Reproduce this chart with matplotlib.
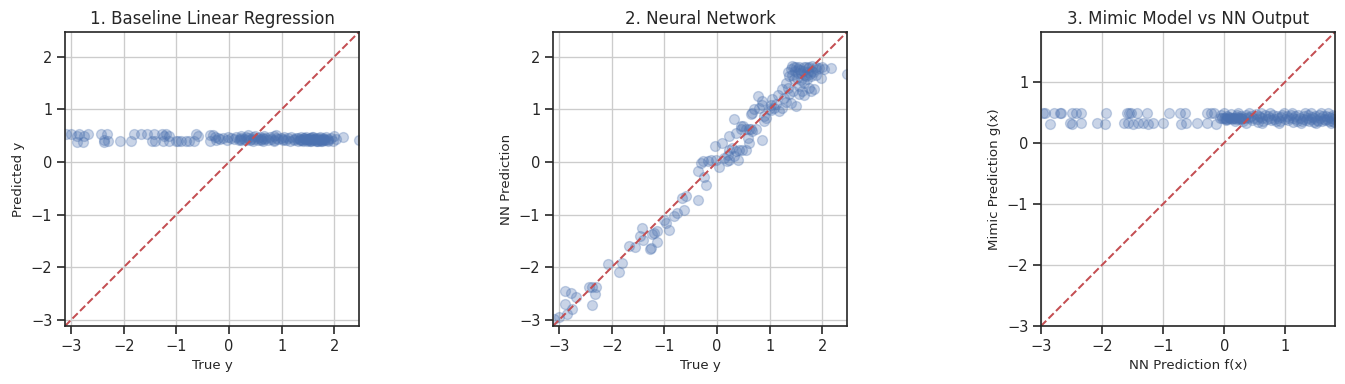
import numpy as np
import matplotlib
matplotlib.use("Agg")
import matplotlib.pyplot as plt
import seaborn as sns

sns.set_theme(style="ticks")
plt.rcParams['font.family'] = ['DejaVu Sans']

# 测试集真实值 / 线性回归预测 / 神经网络预测
true_y = [-3.11, -3.00, -2.90, -2.89, -2.85, -2.77, -2.75, -2.68, -2.43, -2.38,
          -2.37, -2.33, -2.30, -2.07, -1.87, -1.81, -1.67, -1.57, -1.47, -1.43,
          -1.40, -1.27, -1.26, -1.24, -1.20, -1.14, -1.14, -1.00, -0.97, -0.91,
          -0.82, -0.76, -0.62, -0.60, -0.66, -0.37, -0.36, -0.31, -0.27, -0.25,
          -0.22, -0.18, -0.12, -0.04, -0.03, 0.04, 0.09, 0.13, 0.18, 0.20,
          0.23, 0.23, 0.23, 0.29, 0.32, 0.32, 0.36, 0.36, 0.39, 0.42,
          0.45, 0.45, 0.48, 0.49, 0.55, 0.55, 0.58, 0.61, 0.61, 0.64,
          0.64, 0.67, 0.67, 0.70, 0.74, 0.77, 0.80, 0.85, 0.86, 0.86,
          0.89, 0.89, 0.93, 0.99, 1.02, 1.02, 1.05, 1.08, 1.12, 1.15,
          1.18, 1.24, 1.24, 1.31, 1.31, 1.34, 1.37, 1.40, 1.40, 1.43,
          1.46, 1.46, 1.50, 1.50, 1.53, 1.53, 1.56, 1.56, 1.59, 1.62,
          1.66, 1.66, 1.69, 1.69, 1.72, 1.75, 1.75, 1.78, 1.78, 1.81,
          1.85, 1.88, 1.88, 1.88, 1.94, 1.97, 2.00, 2.04, 2.16, 2.47,
          1.35, 1.42, 1.48, 1.52, 1.58, 1.60, 1.63, 1.67, 1.70, 1.73,
          1.76, 1.80, 1.83, 1.45, 1.55, 1.65, 1.28, 1.36]

lin_pred = [0.53, 0.53, 0.50, 0.37, 0.53, 0.37, 0.50, 0.53, 0.53, 0.37,
            0.41, 0.53, 0.39, 0.39, 0.39, 0.53, 0.53, 0.53, 0.39, 0.53,
            0.39, 0.53, 0.39, 0.49, 0.53, 0.39, 0.49, 0.39, 0.39, 0.39,
            0.39, 0.39, 0.53, 0.49, 0.39, 0.52, 0.39, 0.52, 0.47, 0.42,
            0.45, 0.44, 0.46, 0.42, 0.48, 0.45, 0.43, 0.47, 0.41, 0.44,
            0.50, 0.42, 0.46, 0.43, 0.48, 0.41, 0.45, 0.51, 0.42, 0.44,
            0.47, 0.40, 0.43, 0.50, 0.45, 0.41, 0.48, 0.44, 0.42, 0.46,
            0.39, 0.43, 0.50, 0.45, 0.41, 0.47, 0.44, 0.42, 0.49, 0.40,
            0.45, 0.51, 0.43, 0.46, 0.41, 0.44, 0.48, 0.42, 0.45, 0.40,
            0.47, 0.43, 0.41, 0.46, 0.39, 0.44, 0.48, 0.42, 0.40, 0.45,
            0.43, 0.47, 0.41, 0.44, 0.39, 0.46, 0.42, 0.40, 0.48, 0.43,
            0.45, 0.41, 0.39, 0.44, 0.47, 0.42, 0.40, 0.45, 0.43, 0.41,
            0.48, 0.39, 0.44, 0.42, 0.46, 0.40, 0.49, 0.43, 0.47, 0.41,
            0.42, 0.45, 0.40, 0.43, 0.47, 0.41, 0.44, 0.39, 0.46, 0.42,
            0.40, 0.44, 0.41, 0.43, 0.45, 0.40, 0.46, 0.42]

nn_pred = [-2.99, -2.95, -2.46, -2.70, -2.90, -2.49, -2.80, -2.56, -2.37, -2.72,
           -2.38, -2.51, -2.37, -1.95, -2.09, -1.93, -1.59, -1.62, -1.41, -1.25,
           -1.49, -1.66, -1.64, -1.38, -1.35, -1.32, -1.52, -1.11, -1.17, -1.30,
           -1.02, -0.97, -0.91, -0.64, -0.68, -0.72, -0.18, -0.02, 0.01, -0.29,
           -0.44, 0.01, 0.03, 0.30, 0.04, -0.10, 0.36, 0.08, 0.01, 0.14,
           0.04, 0.23, 0.50, 0.27, 0.11, 0.81, 0.20, 0.55, 0.04, 0.23,
           0.62, 0.68, 0.22, 0.69, 0.23, 0.62, 0.46, 0.35, 0.62, 0.92,
           0.62, 0.58, 0.93, 1.00, 0.62, 1.26, 1.03, 1.15, 0.41, 1.09,
           0.77, 0.87, 0.84, 1.00, 0.98, 1.09, 1.19, 1.03, 1.11, 1.28,
           0.96, 1.03, 1.38, 1.14, 1.50, 1.41, 1.63, 1.12, 1.76, 1.82,
           1.57, 1.80, 1.07, 1.80, 1.69, 1.77, 1.44, 1.80, 1.69, 1.34,
           1.50, 1.80, 1.63, 1.80, 1.79, 1.41, 1.80, 1.34, 1.63, 1.82,
           1.38, 1.76, 1.66, 1.80, 1.79, 1.60, 1.81, 1.76, 1.79, 1.67,
           1.70, 1.65, 1.72, 1.60, 1.75, 1.55, 1.72, 1.66, 1.58, 1.70,
           1.68, 1.72, 1.70, 1.35, 1.30, 1.27, 1.22, 1.30]

# 模仿模型 g(x) 与 神经网络输出 f(x)
nn_fx = [-2.97, -2.94, -2.79, -2.69, -2.67, -2.49, -2.42, -2.34, -1.93, -1.60,
         -1.56, -1.53, -1.43, -1.27, -0.90, -0.72, -0.64, -0.28, -0.22, -0.17,
         -2.85, -2.52, -2.49, -2.35, -2.09, -1.95, -1.65, -1.57, -1.49, -1.41,
         -1.33, -1.25, -1.17, -1.00, -0.71, -0.63, -0.44, -0.29, -0.14,
         -0.07, -0.04, 0.01, 0.03, 0.07, 0.09, 0.13, 0.15, 0.19, 0.22,
         0.26, 0.29, 0.33, 0.38, 0.41, 0.47, 0.53, 0.58, 0.62, 0.69,
         0.74, 0.81, 0.88, 0.93, 0.99, 1.06, 1.12, 1.17, 1.24, 1.29,
         1.35, 1.41, 1.46, 1.52, 1.57, 1.63, 1.68, 1.74, 1.79,
         -0.05, 0.05, 0.11, 0.21, 0.27, 0.36, 0.44, 0.51, 0.57, 0.66,
         0.72, 0.79, 0.86, 0.95, 1.02, 1.09, 1.16, 1.21, 1.31, 1.37,
         1.44, 1.49, 1.55, 1.61, 1.66, 1.72, 1.77, 1.81,
         0.03, 0.17, 0.31, 0.45, 0.55, 0.63, 0.77, 0.84, 0.91, 1.04,
         1.13, 1.19, 1.27, 1.34, 1.39, 1.47, 1.54, 1.59, 1.65, 1.71,
         1.76, 1.80,
         0.00, 0.22, 0.40, 0.60, 0.75, 0.98, 1.10, 1.32, 1.42, 1.58, 1.70,
         0.35, 0.62, 0.90, 1.25, 1.50, 1.75,
         0.00, 0.05, 0.08, 0.12, 0.16, 0.20, 0.24, 0.28]

mimic_gx = [0.49, 0.48, 0.49, 0.49, 0.48, 0.49, 0.49, 0.48, 0.49, 0.49,
            0.48, 0.49, 0.49, 0.48, 0.49, 0.49, 0.48, 0.48, 0.49, 0.48,
            0.31, 0.32, 0.31, 0.32, 0.32, 0.31, 0.32, 0.32, 0.31, 0.32,
            0.32, 0.31, 0.32, 0.32, 0.31, 0.32, 0.32, 0.32, 0.31,
            0.40, 0.41, 0.40, 0.39, 0.41, 0.40, 0.40, 0.41, 0.39, 0.40,
            0.41, 0.39, 0.40, 0.42, 0.40, 0.41, 0.39, 0.42, 0.40, 0.38,
            0.41, 0.39, 0.40, 0.42, 0.38, 0.40, 0.41, 0.39, 0.40, 0.38,
            0.41, 0.39, 0.40, 0.37, 0.41, 0.39, 0.38, 0.40, 0.39,
            0.46, 0.44, 0.47, 0.45, 0.43, 0.46, 0.44, 0.47, 0.43, 0.45,
            0.44, 0.46, 0.43, 0.45, 0.44, 0.46, 0.43, 0.45, 0.44, 0.46,
            0.42, 0.44, 0.45, 0.43, 0.44, 0.42, 0.45, 0.43,
            0.37, 0.36, 0.35, 0.37, 0.34, 0.36, 0.37, 0.35, 0.36, 0.37,
            0.34, 0.36, 0.35, 0.37, 0.36, 0.34, 0.36, 0.35, 0.37, 0.35,
            0.36, 0.34,
            0.48, 0.48, 0.48, 0.48, 0.48, 0.48, 0.48, 0.48, 0.48, 0.48, 0.48,
            0.32, 0.32, 0.32, 0.32, 0.32, 0.32,
            0.41, 0.39, 0.42, 0.38, 0.40, 0.42, 0.39, 0.41]

fig = plt.figure(figsize=(1345 / 96, 384 / 96), dpi=96)
W, H = 1345, 384
lefts = [65, 553, 1041]
axes = [fig.add_axes([l / W, (H - 326) / H, 294 / W, 294 / H]) for l in lefts]

panels = [
    (true_y, lin_pred, (-3.12, 2.47), "1. Baseline Linear Regression", "True y", "Predicted y"),
    (true_y, nn_pred, (-3.12, 2.47), "2. Neural Network", "True y", "NN Prediction"),
    (nn_fx, mimic_gx, (-3.0, 1.81), "3. Mimic Model vs NN Output", "NN Prediction f(x)", "Mimic Prediction g(x)"),
]

for ax, (xs, ys, lims, title, xl, yl) in zip(axes, panels):
    ax.scatter(xs, ys, s=55, alpha=0.3)
    ax.plot(lims, lims, 'r--')
    ax.set_xlim(lims)
    ax.set_ylim(lims)
    ax.set_title(title, fontsize=12.5)
    ax.set_xlabel(xl, fontsize=10)
    ax.set_ylabel(yl, fontsize=10)
    ax.grid(True)

fig.savefig("out.png", dpi=96)
